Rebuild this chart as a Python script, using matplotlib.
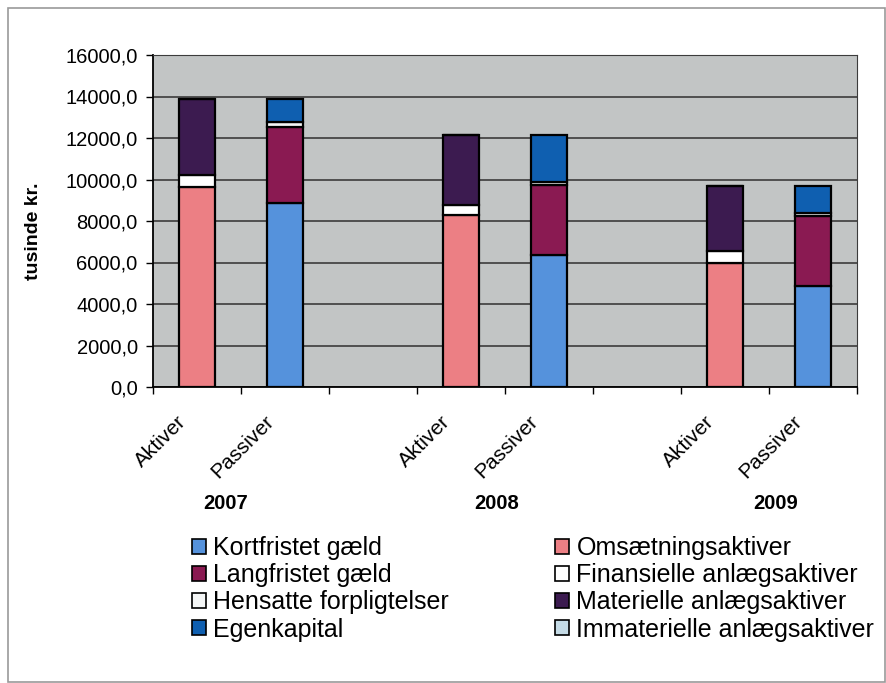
import matplotlib
matplotlib.use("Agg")
import matplotlib.pyplot as plt
from matplotlib.patches import Rectangle, Patch

plt.rcParams['font.family'] = ['Liberation Sans', 'DejaVu Sans']

# data (tusinde kr.), one value per year
years = ['2007', '2008', '2009']
bar_labels = ['Aktiver', 'Passiver']

omsaetning = [9650, 8300, 6000]
finansielle = [550, 450, 550]
materielle = [3700, 3400, 3150]
immaterielle = [0, 0, 0]

kortfristet = [8850, 6350, 4850]
langfristet = [3700, 3400, 3400]
hensatte = [200, 150, 150]
egenkapital = [1150, 2250, 1300]

yticks = [0, 2000, 4000, 6000, 8000, 10000, 12000, 14000, 16000]

# layout
akt_pos = [0.5, 3.5, 6.5]
pas_pos = [1.5, 4.5, 7.5]
year_pos = [0.83, 3.91, 7.07]
width = 0.41

colors = {
    'Kortfristet gæld': '#5592dc',
    'Langfristet gæld': '#8a1a52',
    'Hensatte forpligtelser': '#f4f6f6',
    'Egenkapital': '#0f5fb0',
    'Omsætningsaktiver': '#ec7f84',
    'Finansielle anlægsaktiver': '#ffffff',
    'Materielle anlægsaktiver': '#3c1b50',
    'Immaterielle anlægsaktiver': '#c5dbe6',
}

fig = plt.figure(figsize=(8.87, 6.83), dpi=100)
ax = fig.add_axes([153 / 887, 1 - 387 / 683, 704 / 887, 332 / 683])
ax.set_facecolor('#c2c5c5')

def stack(pos, series):
    bottom = [0] * len(pos)
    for name, vals in series:
        ax.bar(pos, vals, width=width, bottom=bottom, color=colors[name],
               edgecolor='black', linewidth=1.6, zorder=3)
        bottom = [b + v for b, v in zip(bottom, vals)]

stack(akt_pos, [('Omsætningsaktiver', omsaetning),
                ('Finansielle anlægsaktiver', finansielle),
                ('Materielle anlægsaktiver', materielle),
                ('Immaterielle anlægsaktiver', immaterielle)])
stack(pas_pos, [('Kortfristet gæld', kortfristet),
                ('Langfristet gæld', langfristet),
                ('Hensatte forpligtelser', hensatte),
                ('Egenkapital', egenkapital)])

ax.set_xlim(0, 8)
ax.set_ylim(0, 16000)
ax.set_yticks(yticks)
ax.set_yticklabels([f"{v:.1f}".replace('.', ',') for v in yticks], fontsize=14.5)
ax.yaxis.grid(True, color='#3c3c3c', linewidth=1.2, zorder=1)
ax.set_axisbelow(True)
ax.tick_params(axis='y', direction='out', length=5, width=1, pad=6)

ax.set_xticks(range(0, 9), minor=True)
ax.set_xticks([])
ax.tick_params(axis='x', which='minor', direction='out', length=5, width=1)

for s in ['top', 'right']:
    ax.spines[s].set_color('#3c3c3c')
for s in ['left', 'bottom']:
    ax.spines[s].set_color('black')
    ax.spines[s].set_linewidth(1.3)

xt = ax.get_xaxis_transform()
for a, p in zip(akt_pos, pas_pos):
    for x, lab in zip([a, p], bar_labels):
        ax.annotate(lab, xy=(x, 0), xycoords=xt, xytext=(-10, -23),
                    textcoords='offset points', rotation=45, ha='right',
                    va='center', rotation_mode='anchor', fontsize=15)
for x, y in zip(year_pos, years):
    ax.annotate(y, xy=(x, 0), xycoords=xt, xytext=(0, -84),
                textcoords='offset points', ha='center', va='center',
                fontsize=14.5, fontweight='bold')

ax.set_ylabel('tusinde kr.', fontsize=14, fontweight='bold')
ax.yaxis.set_label_coords(-0.158, 0.47)

order = ['Kortfristet gæld', 'Langfristet gæld', 'Hensatte forpligtelser',
         'Egenkapital', 'Omsætningsaktiver', 'Finansielle anlægsaktiver',
         'Materielle anlægsaktiver', 'Immaterielle anlægsaktiver']
handles = [Patch(facecolor=colors[n], edgecolor='black', linewidth=1.2, label=n)
           for n in order]
fig.legend(handles=handles, ncol=2, loc='upper left',
           bbox_to_anchor=(192 / 887, 1 - 536 / 683), frameon=False,
           fontsize=18, handlelength=0.55, handleheight=0.55,
           handletextpad=0.3, labelspacing=0.13, columnspacing=4.25,
           borderpad=0, borderaxespad=0)

fig.patches.append(Rectangle((8 / 887, 0.002), 877 / 887, 1 - 8 / 683 - 0.002,
                             transform=fig.transFigure, fill=False,
                             edgecolor='#9a9a9a', linewidth=1.2))

fig.savefig('out.png', dpi=100)
